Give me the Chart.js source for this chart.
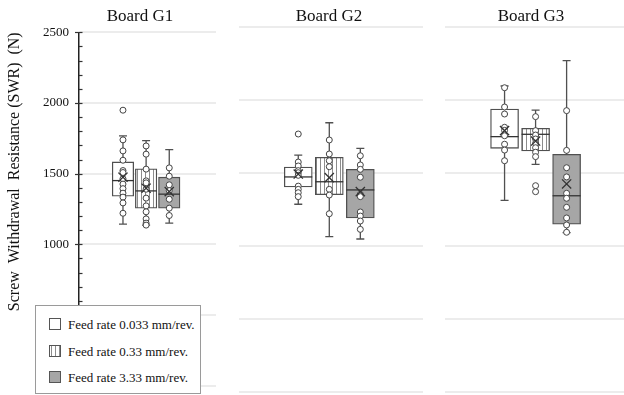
<!DOCTYPE html>
<html lang="en">
<head>
<meta charset="UTF-8">
<title>Screw withdrawal resistance by board</title>
<script src="https://cdn.jsdelivr.net/npm/chart.js"></script>
<style>
  body { margin: 0; background: #fff; font-family: "Liberation Serif", "Times New Roman", serif; color: #111; }
  #wrap { position: relative; width: 624px; height: 395px; overflow: hidden; }
  #wrap canvas { position: absolute; top: 0; }
  .board { position: absolute; top: 5px; width: 120px; margin-left: -60px; text-align: center; font-size: 17px; line-height: 22px; }
  #legend { position: absolute; left: 35px; top: 305px; width: 164px; height: 87px; border: 1px solid #9a9a9a; background: #fff; }
  .item { position: absolute; left: 13px; height: 16px; font-size: 13px; line-height: 16px; white-space: nowrap; }
  .sw { display: inline-block; width: 10px; height: 10px; border: 1px solid #555; vertical-align: -1px; margin-right: 7px; }
</style>
</head>
<body>
<div id="wrap">
  <canvas id="g1" width="216" height="395"></canvas>
  <canvas id="g2" width="184" height="395"></canvas>
  <canvas id="g3" width="179" height="395"></canvas>
  <div id="legend"></div>
</div>

<script>
// categories
const boards = ['Board G1', 'Board G2', 'Board G3'];
const feedRates = ['Feed rate 0.033 mm/rev.', 'Feed rate 0.33 mm/rev.', 'Feed rate 3.33 mm/rev.'];

// y axis
const yMin = 0, yMax = 2500, yStep = 500, yMinor = 100;
const yTitle = 'Screw  Withdrawal  Resistance (SWR)  (N)';

// box statistics, one row per board, one value per feed rate
const whiskerLow  = [[1143, 1136, 1150], [1284, 1062, 1046], [1311, 1557, 1089]];
const q1          = [[1341, 1256, 1256], [1402, 1349, 1190], [1667, 1649, 1147]];
const median      = [[1451, 1378, 1355], [1471, 1438, 1382], [1747, 1763, 1342]];
const q3          = [[1583, 1534, 1475], [1539, 1605, 1523], [1936, 1804, 1626]];
const whiskerHigh = [[1767, 1734, 1670], [1621, 1842, 1667], [2094, 1929, 2267]];
const means       = [[1475, 1397, 1373], [1491, 1466, 1370], [1788, 1717, 1423]];

// individual measurements
const pointsG1 = [
  [1949, 1739, 1661, 1595, 1522, 1508, 1464, 1426, 1394, 1362, 1334, 1293, 1220],
  [1696, 1638, 1532, 1449, 1435, 1390, 1327, 1272, 1230, 1180, 1150, 1136],
  [1541, 1482, 1421, 1380, 1319, 1256, 1204]
];
const pointsG2 = [
  [1765, 1573, 1546, 1514, 1500, 1482, 1408, 1386, 1363, 1336],
  [1724, 1628, 1582, 1541, 1386, 1347, 1219],
  [1616, 1553, 1523, 1469, 1352, 1336, 1231, 1203, 1169, 1112]
];
const pointsG3 = [
  [2082, 1950, 1902, 1811, 1790, 1753, 1695, 1655, 1582],
  [1884, 1788, 1758, 1731, 1701, 1671, 1640, 1610, 1411, 1370],
  [1925, 1653, 1534, 1471, 1359, 1325, 1263, 1190, 1142, 1092]
];
const points = [pointsG1, pointsG2, pointsG3];

// panel placement (the three panels come from separate plots)
const panels = [
  { id: 'g1', left: 0,   top: 32.3, bottom: 9.3, axis: 79, xMin: -1.9,  xMax: 4.02, bar: 21.5, titleX: 140 },
  { id: 'g2', left: 239, top: 26.7, bottom: 3.3, axis: 0,  xMin: -1.91, xMax: 4.02, bar: 28,   titleX: 329 },
  { id: 'g3', left: 445, top: 26.7, bottom: 3.3, axis: 0,  xMin: -1.92, xMax: 3.85, bar: 28,   titleX: 531 }
];

const serif = '"Liberation Serif", "Times New Roman", serif';
const edge = '#505050';

function stripePattern(ctx) {
  const c = document.createElement('canvas');
  c.width = 4; c.height = 4;
  const g = c.getContext('2d');
  g.fillStyle = '#fff';
  g.fillRect(0, 0, 4, 4);
  g.fillStyle = '#8c8c8c';
  g.fillRect(1, 0, 1, 4);
  return ctx.createPattern(c, 'repeat');
}

// whiskers under the boxes, medians on top of them
const boxParts = {
  id: 'boxParts',
  beforeDatasetDraw(chart, args, opts) {
    if (args.meta.type !== 'bar') return;
    const g = chart.ctx, y = chart.scales.y;
    g.save();
    g.strokeStyle = edge;
    g.lineWidth = 1.3;
    args.meta.data.forEach((bar, i) => {
      const lo = y.getPixelForValue(opts.low[i]);
      const hi = y.getPixelForValue(opts.high[i]);
      g.beginPath();
      g.moveTo(bar.x, lo); g.lineTo(bar.x, hi);
      g.moveTo(bar.x - 4, lo); g.lineTo(bar.x + 4, lo);
      g.moveTo(bar.x - 4, hi); g.lineTo(bar.x + 4, hi);
      g.stroke();
    });
    g.restore();
  },
  afterDatasetDraw(chart, args, opts) {
    if (args.meta.type !== 'bar') return;
    const g = chart.ctx, y = chart.scales.y;
    g.save();
    g.strokeStyle = '#333';
    g.lineWidth = 1.3;
    args.meta.data.forEach((bar, i) => {
      const m = y.getPixelForValue(opts.median[i]);
      g.beginPath();
      g.moveTo(bar.x - bar.width / 2, m);
      g.lineTo(bar.x + bar.width / 2, m);
      g.stroke();
    });
    g.restore();
  }
};

// major ticks cross the axis, minor ticks only on the inside
const tickMarks = {
  id: 'tickMarks',
  afterDraw(chart) {
    const s = chart.scales.y, g = chart.ctx;
    g.save();
    g.strokeStyle = '#333';
    g.lineWidth = 1.2;
    for (let v = yMin; v <= yMax; v += yMinor) {
      const py = Math.round(s.getPixelForValue(v)) + 0.5;
      const major = v % yStep === 0;
      g.beginPath();
      g.moveTo(s.right - (major ? 4 : 0), py);
      g.lineTo(s.right + 3.5, py);
      g.stroke();
    }
    g.restore();
  }
};

panels.forEach((p, b) => {
  const canvas = document.getElementById(p.id);
  canvas.style.left = p.left + 'px';
  const ctx = canvas.getContext('2d');
  const fills = ['#ffffff', stripePattern(ctx), '#a6a6a6'];
  const first = b === 0;

  const title = document.createElement('div');
  title.className = 'board';
  title.style.left = p.titleX + 'px';
  title.textContent = boards[b];
  document.getElementById('wrap').appendChild(title);

  const boxData = feedRates.map((f, i) => ({ x: i, y: [q1[b][i], q3[b][i]] }));
  const pointData = [];
  points[b].forEach((list, i) => list.forEach(v => pointData.push({ x: i, y: v })));
  const meanData = feedRates.map((f, i) => ({ x: i, y: means[b][i] }));

  new Chart(ctx, {
    type: 'bar',
    data: {
      datasets: [
        {
          type: 'scatter', label: 'Mean', data: meanData, order: 1,
          pointStyle: 'crossRot', pointRadius: 6.5, pointBorderColor: '#333', pointBorderWidth: 1.3
        },
        {
          type: 'scatter', label: 'Measurements', data: pointData, order: 2,
          pointStyle: 'circle', pointRadius: 3, pointBackgroundColor: '#fff',
          pointBorderColor: '#444', pointBorderWidth: 1
        },
        {
          type: 'bar', label: 'Box', data: boxData, order: 3,
          backgroundColor: fills, borderColor: edge, borderWidth: 1.3,
          borderSkipped: false, barThickness: p.bar
        }
      ]
    },
    options: {
      responsive: false,
      animation: false,
      devicePixelRatio: 1,
      layout: { autoPadding: false, padding: { left: 0, right: 0, top: p.top, bottom: p.bottom } },
      scales: {
        x: { type: 'linear', display: false, offset: false, min: p.xMin, max: p.xMax },
        y: {
          min: yMin, max: yMax,
          ticks: {
            display: first, stepSize: yStep, padding: 10, color: '#111',
            font: { family: serif, size: 13 },
            callback: v => (v >= 1000 ? v : '')
          },
          grid: { color: '#ececec', lineWidth: 2, drawTicks: false },
          border: { display: first, color: '#222', width: 1.5 },
          title: {
            display: first, text: yTitle, align: 'end', color: '#111',
            font: { family: serif, size: 16 }, padding: { top: 5, bottom: 0 }
          },
          afterFit: s => {
            s.width = p.axis;
            s.paddingTop = 0;
            s.paddingBottom = 0;
          }
        }
      },
      plugins: {
        legend: { display: false },
        tooltip: { enabled: false },
        boxParts: { low: whiskerLow[b], high: whiskerHigh[b], median: median[b] }
      }
    },
    plugins: first ? [boxParts, tickMarks] : [boxParts]
  });
});

// legend
const swatches = [
  'background:#fff',
  'background:repeating-linear-gradient(90deg,#fff 0 1px,#8c8c8c 1px 2px,#fff 2px 4px)',
  'background:#a6a6a6'
];
const rowCenters = [19.3, 45.7, 72.3];
const legend = document.getElementById('legend');
feedRates.forEach((name, i) => {
  const row = document.createElement('div');
  row.className = 'item';
  row.style.top = (rowCenters[i] - 8) + 'px';
  row.innerHTML = '<span class="sw" style="' + swatches[i] + '"></span>' + name;
  legend.appendChild(row);
});
</script>
</body>
</html>
